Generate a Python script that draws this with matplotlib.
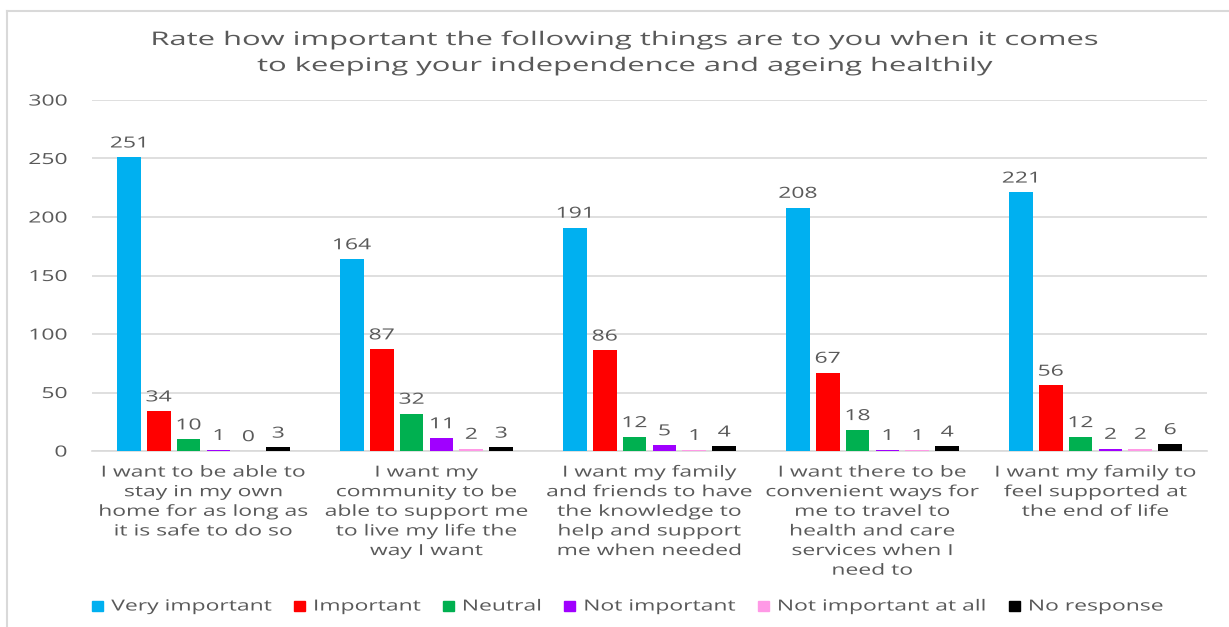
import matplotlib
matplotlib.use("Agg")
import matplotlib.pyplot as plt
import numpy as np
from matplotlib.lines import Line2D
from matplotlib.patches import Rectangle
from matplotlib.patheffects import AbstractPathEffect
from matplotlib.transforms import Affine2D

categories = [
    "I want to be able to\nstay in my own\nhome for as long as\nit is safe to do so",
    "I want my\ncommunity to be\nable to support me\nto live my life the\nway I want",
    "I want my family\nand friends to have\nthe knowledge to\nhelp and support\nme when needed",
    "I want there to be\nconvenient ways for\nme to travel to\nhealth and care\nservices when I\nneed to",
    "I want my family to\nfeel supported at\nthe end of life",
]
series_names = ["Very important", "Important", "Neutral", "Not important",
                "Not important at all", "No response"]
very_important = [251, 164, 191, 208, 221]
important = [34, 87, 86, 67, 56]
neutral = [10, 32, 12, 18, 12]
not_important = [1, 11, 5, 1, 2]
not_important_at_all = [0, 2, 1, 1, 2]
no_response = [3, 3, 4, 4, 6]
series_values = [very_important, important, neutral, not_important,
                 not_important_at_all, no_response]
colors = ["#00B0F0", "#FF0000", "#00B050", "#A000FF", "#FF99E6", "#000000"]
yticks = [0, 50, 100, 150, 200, 250, 300]


class StretchX(AbstractPathEffect):
    """Draw text horizontally widened (the reference font is wide)."""
    def __init__(self, sx, pivot="center"):
        super().__init__()
        self.sx = sx
        self.pivot = pivot

    def draw_path(self, renderer, gc, tpath, affine, rgbFace=None):
        ext = tpath.get_extents()
        if self.pivot == "center":
            px = (ext.x0 + ext.x1) / 2
        elif self.pivot == "right":
            px = ext.x1
        else:
            px = 0
        t = Affine2D().translate(-px, 0).scale(self.sx, 1).translate(px, 0) + affine
        renderer.draw_path(gc, tpath, t, rgbFace)


plt.rcParams['font.family'] = ['Open Sans', 'DejaVu Sans']
txt = "#595959"
SX = 1.5
FS = 11

W, H = 1229, 627
fig = plt.figure(figsize=(W / 100, H / 100), dpi=100)
ax = fig.add_axes([92 / W, 1 - 451 / H, (1207 - 92) / W, (451 - 100) / H])

x = np.arange(len(categories))
pitch = 0.134
width = 0.107
for k, (name, vals, c) in enumerate(zip(series_names, series_values, colors)):
    pos = x + (k - 2.5) * pitch
    ax.bar(pos, vals, width=width, color=c, label=name, zorder=3)
    for p, v in zip(pos, vals):
        t = ax.text(p, v + 5, str(v), ha='center', va='bottom', fontsize=FS, color=txt)
        t.set_path_effects([StretchX(SX, "center")])

ax.set_ylim(0, 300)
ax.set_xlim(-0.5, len(categories) - 0.5)
ax.set_yticks(yticks)
ax.set_yticklabels([str(t) for t in yticks], fontsize=FS, color=txt)
ax.set_xticks(x)
ax.set_xticklabels(categories, fontsize=FS, color=txt, linespacing=1.42, va='top')
ax.tick_params(axis='both', length=0)
ax.tick_params(axis='x', pad=10.5)
ax.tick_params(axis='y', pad=18)
for t in ax.get_yticklabels():
    t.set_path_effects([StretchX(SX, "right")])
for t in ax.get_xticklabels():
    t.set_path_effects([StretchX(SX, "center")])
ax.grid(axis='y', color='#D9D9D9', linewidth=1.2, zorder=0)
for s in ['top', 'right', 'left']:
    ax.spines[s].set_visible(False)
ax.spines['bottom'].set_color('#D9D9D9')
ax.spines['bottom'].set_linewidth(1.2)

title_lines = ["Rate how important the following things are to you when it comes",
               "to keeping your independence and ageing healthily"]
for i, line in enumerate(title_lines):
    t = fig.text(624.5 / W, 1 - (40 + 26 * i) / H, line, ha='center', va='center',
                 fontsize=13.5, color=txt)
    t.set_path_effects([StretchX(1.65, "center")])

# chart frame (left and top edges)
fig.add_artist(Line2D([7 / W, 7 / W], [0, 1 - 11 / H], color='#D9D9D9', lw=1.5,
                      transform=fig.transFigure))
fig.add_artist(Line2D([7 / W, 1], [1 - 11 / H, 1 - 11 / H], color='#D9D9D9', lw=1.5,
                      transform=fig.transFigure))

# legend laid out manually so that widened text is spaced correctly
renderer = fig.canvas.get_renderer()
leg_y = 606
sq = 11
gap_sq = 8
gap_item = 22
widths = []
tmp = []
for name in series_names:
    t = fig.text(0, 0, name, fontsize=FS, color=txt, ha='left', va='center')
    widths.append(t.get_window_extent(renderer).width * SX)
    tmp.append(t)
total = sum(sq + gap_sq + w for w in widths) + gap_item * (len(series_names) - 1)
cur = 628 - total / 2
for t, w, c in zip(tmp, widths, colors):
    fig.add_artist(Rectangle((cur / W, 1 - (leg_y + 5) / H), sq / W, 10 / H,
                             color=c, transform=fig.transFigure))
    t.set_position(((cur + sq + gap_sq) / W, 1 - (leg_y + 1) / H))
    t.set_path_effects([StretchX(SX, "left")])
    cur += sq + gap_sq + w + gap_item

fig.savefig("out.png", dpi=100)
